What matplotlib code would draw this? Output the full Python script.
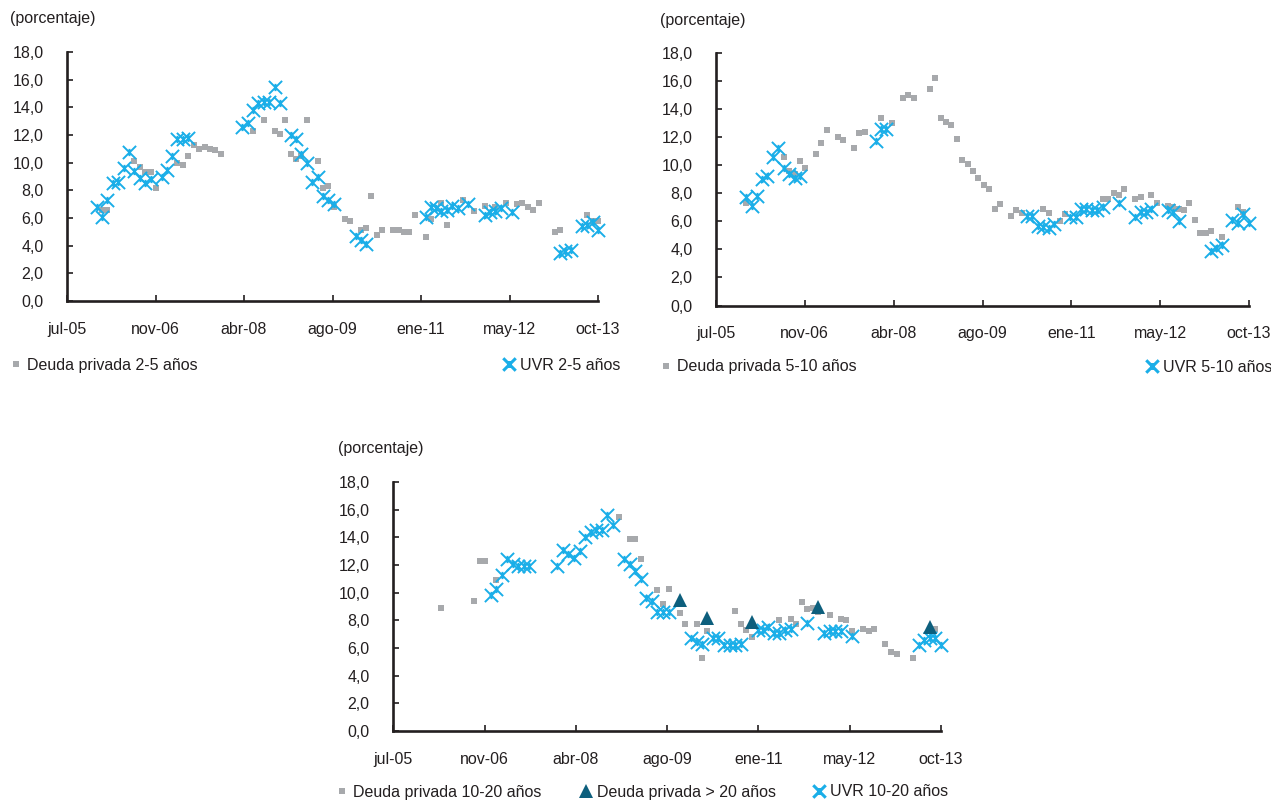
import matplotlib
matplotlib.use("Agg")
import matplotlib.pyplot as plt
from matplotlib.path import Path
from matplotlib.lines import Line2D
import pandas as pd

plt.rcParams['font.family'] = ['Liberation Sans', 'DejaVu Sans']
plt.rcParams['font.size'] = 11.5

# ---------------- datos ----------------
tick_labels = ["jul-05", "nov-06", "abr-08", "ago-09", "ene-11", "may-12", "oct-13"]
y_ticks = [0, 2, 4, 6, 8, 10, 12, 14, 16, 18]

# panel 1: 2-5 años
p1_priv_fechas = ["2006-01", "2006-02", "2006-07", "2006-08", "2006-09", "2006-10", "2006-11",
                  "2007-03", "2007-04", "2007-05", "2007-06", "2007-07", "2007-08", "2007-09", "2007-10", "2007-11",
                  "2008-05", "2008-07", "2008-09", "2008-10", "2008-11", "2008-12",
                  "2009-01", "2009-02", "2009-03", "2009-05", "2009-06", "2009-07", "2009-08", "2009-10", "2009-11",
                  "2010-01", "2010-02", "2010-03", "2010-04", "2010-05", "2010-07", "2010-08", "2010-09", "2010-10", "2010-11",
                  "2011-01", "2011-02", "2011-04", "2011-05", "2011-08", "2011-10", "2011-12",
                  "2012-02", "2012-04", "2012-06", "2012-07", "2012-08", "2012-09", "2012-10",
                  "2013-01", "2013-02", "2013-07", "2013-08", "2013-09"]
p1_priv = [6.6, 6.6, 10.1, 9.7, 9.3, 9.3, 8.2,
           10.0, 9.8, 10.5, 11.3, 11.0, 11.1, 11.0, 10.9, 10.6,
           12.3, 13.1, 12.3, 12.1, 13.1, 10.6,
           10.3, 10.5, 13.1, 10.1, 8.2, 8.3, 6.8, 5.9, 5.8,
           5.1, 5.3, 7.6, 4.8, 5.1, 5.1, 5.1, 5.0, 5.0, 6.2,
           4.6, 5.9, 7.1, 5.5, 7.3, 6.5, 6.9,
           6.8, 7.1, 7.0, 7.1, 6.8, 6.6, 7.1,
           5.0, 5.1, 6.2, 5.8, 5.8]
p1_uvr_fechas = ["2005-12", "2006-01", "2006-02", "2006-03", "2006-04", "2006-05", "2006-06", "2006-07",
                 "2006-08", "2006-09", "2006-10", "2006-12", "2007-01", "2007-02", "2007-03", "2007-04", "2007-05",
                 "2008-03", "2008-04", "2008-05", "2008-06", "2008-07", "2008-08", "2008-09", "2008-10", "2008-12",
                 "2009-01", "2009-02", "2009-03", "2009-04", "2009-05", "2009-06", "2009-07", "2009-08", "2009-12",
                 "2010-01", "2010-02", "2011-01", "2011-02", "2011-03", "2011-04", "2011-05", "2011-06", "2011-07",
                 "2011-09", "2011-12", "2012-01", "2012-02", "2012-03", "2012-05",
                 "2013-02", "2013-03", "2013-04", "2013-06", "2013-07", "2013-08", "2013-09"]
p1_uvr = [6.8, 6.1, 7.3, 8.5, 8.6, 9.6, 10.8, 9.4, 8.9, 8.5, 8.8, 9.0, 9.5, 10.5, 11.7, 11.7, 11.8,
          12.6, 12.9, 13.8, 14.3, 14.4, 14.4, 15.5, 14.3, 12.0, 11.7, 10.6, 10.0, 8.6, 9.0, 7.6, 7.3, 7.0, 4.7,
          4.4, 4.1, 6.1, 6.8, 6.7, 6.5, 6.6, 6.9, 6.7, 7.0, 6.2, 6.4, 6.5, 6.7, 6.4,
          3.5, 3.6, 3.7, 5.4, 5.5, 5.7, 5.1]

# panel 2: 5-10 años
p2_priv_fechas = ["2005-12", "2006-07", "2006-08", "2006-09", "2006-10", "2006-11",
                  "2007-01", "2007-02", "2007-03", "2007-05", "2007-06", "2007-08", "2007-09", "2007-10",
                  "2008-01", "2008-03", "2008-05", "2008-06", "2008-07", "2008-10", "2008-11", "2008-12",
                  "2009-01", "2009-02", "2009-03", "2009-04", "2009-05", "2009-06", "2009-07", "2009-08",
                  "2009-09", "2009-10", "2009-11",
                  "2010-01", "2010-02", "2010-03", "2010-07", "2010-08", "2010-10", "2010-11",
                  "2011-06", "2011-07", "2011-08", "2011-09", "2011-10", "2011-12",
                  "2012-01", "2012-03", "2012-04", "2012-06", "2012-07", "2012-08", "2012-09", "2012-10",
                  "2012-11", "2012-12", "2013-01", "2013-02", "2013-04", "2013-07", "2013-08"]
p2_priv = [7.3, 10.6, 9.6, 9.4, 10.3, 9.8,
           10.8, 11.6, 12.5, 12.0, 11.8, 11.2, 12.3, 12.4,
           13.4, 13.0, 14.8, 15.0, 14.8, 15.4, 16.2, 13.4,
           13.1, 12.9, 11.9, 10.4, 10.1, 9.6, 9.1, 8.6, 8.3, 6.9, 7.2,
           6.4, 6.8, 6.6, 6.9, 6.6, 6.0, 6.5,
           7.6, 7.6, 8.0, 7.9, 8.3, 7.6,
           7.7, 7.9, 7.3, 7.1, 7.0, 6.9, 6.8, 7.3, 6.1, 5.2,
           5.2, 5.3, 4.9, 7.0, 6.7]
p2_uvr_fechas = ["2005-12", "2006-01", "2006-02", "2006-03", "2006-04", "2006-05", "2006-06", "2006-07",
                 "2006-08", "2006-09", "2006-10", "2007-12", "2008-01", "2008-02",
                 "2010-04", "2010-05", "2010-06", "2010-07", "2010-08", "2010-09",
                 "2010-12", "2011-01", "2011-02", "2011-03", "2011-04", "2011-05", "2011-06", "2011-09",
                 "2011-12", "2012-01", "2012-02", "2012-03", "2012-06", "2012-07", "2012-08",
                 "2013-02", "2013-03", "2013-04", "2013-06", "2013-07", "2013-08", "2013-09"]
p2_uvr = [7.7, 7.1, 7.8, 9.0, 9.2, 10.6, 11.2, 9.8, 9.4, 9.1, 9.2, 11.7, 12.6, 12.6,
          6.4, 6.4, 5.7, 5.6, 5.5, 5.8,
          6.3, 6.3, 6.9, 6.9, 6.8, 6.8, 7.0, 7.3,
          6.3, 6.7, 6.7, 6.9, 6.8, 6.7, 6.0,
          3.9, 4.1, 4.3, 6.1, 5.9, 6.5, 5.9]

# panel 3: 10-20 años y > 20 años
p3_priv_fechas = ["2006-03", "2006-09", "2006-10", "2006-11", "2007-01", "2008-11",
                  "2009-01", "2009-02", "2009-03", "2009-06", "2009-07", "2009-08", "2009-10", "2009-11",
                  "2010-01", "2010-02", "2010-03", "2010-08", "2010-09", "2010-10", "2010-11",
                  "2011-04", "2011-06", "2011-07", "2011-08", "2011-09", "2011-10", "2011-11",
                  "2012-01", "2012-03", "2012-04", "2012-05", "2012-07", "2012-08", "2012-09", "2012-11", "2012-12",
                  "2013-01", "2013-04", "2013-08"]
p3_priv = [8.9, 9.4, 12.3, 12.3, 10.9, 15.5,
           13.9, 13.9, 12.4, 10.2, 9.2, 10.3, 8.5, 7.7,
           7.7, 5.3, 7.2, 8.7, 7.7, 7.3, 6.8,
           8.0, 8.1, 7.7, 9.3, 8.8, 8.9, 8.6,
           8.4, 8.1, 8.0, 7.2, 7.4, 7.2, 7.4, 6.3, 5.7,
           5.6, 5.3, 7.4]
p3_priv20_fechas = ["2009-10", "2010-03", "2010-11", "2011-11", "2013-07"]
p3_priv20 = [9.5, 8.2, 7.9, 9.0, 7.5]
p3_uvr_fechas = ["2006-12", "2007-01", "2007-02", "2007-03", "2007-04", "2007-05", "2007-06", "2007-07",
                 "2007-12", "2008-01", "2008-02", "2008-03", "2008-04", "2008-05", "2008-06", "2008-07",
                 "2008-08", "2008-09", "2008-10",
                 "2008-12", "2009-01", "2009-02", "2009-03", "2009-04", "2009-05", "2009-06", "2009-07", "2009-08",
                 "2009-12", "2010-01", "2010-02", "2010-04", "2010-05", "2010-06", "2010-07", "2010-08", "2010-09",
                 "2010-12", "2011-01", "2011-02", "2011-03", "2011-04", "2011-05", "2011-06", "2011-09",
                 "2011-12", "2012-01", "2012-02", "2012-03", "2012-05",
                 "2013-05", "2013-06", "2013-07", "2013-08", "2013-09"]
p3_uvr = [9.8, 10.3, 11.3, 12.4, 12.1, 11.9, 11.9, 11.9,
          11.9, 13.1, 12.8, 12.5, 13.0, 14.0, 14.4, 14.5, 14.5, 15.6, 14.9,
          12.4, 12.1, 11.6, 11.0, 9.6, 9.4, 8.6, 8.6, 8.6,
          6.7, 6.4, 6.3, 6.7, 6.7, 6.2, 6.2, 6.2, 6.3,
          7.3, 7.3, 7.5, 7.1, 7.1, 7.3, 7.4, 7.8,
          7.1, 7.2, 7.2, 7.2, 6.9,
          6.2, 6.6, 6.7, 6.7, 6.2]

# ---------------- estilo ----------------
GRIS = "#a7a9ac"
AZUL = "#1aaee8"
TEAL = "#0d5f7d"
NEGRO = "#231f20"
FS = 11.5

# marcador estrella de excel (X con barra vertical)
estrella = Path([(-1, -1), (1, 1), (-1, 1), (1, -1), (0, -0.55), (0, 0.55)],
                [Path.MOVETO, Path.LINETO, Path.MOVETO, Path.LINETO, Path.MOVETO, Path.LINETO])

inicio = pd.Timestamp("2005-07-15")
ticks_x = [inicio + pd.Timedelta(days=500 * i) for i in range(len(tick_labels))]


def fechas(lista):
    return pd.to_datetime(lista) + pd.offsets.MonthEnd(0)


def formato(ax):
    ax.set_xlim(ticks_x[0], ticks_x[-1])
    ax.set_ylim(0, 18)
    ax.set_xticks(ticks_x)
    ax.set_xticklabels(tick_labels)
    ax.set_yticks(y_ticks)
    ax.set_yticklabels([f"{v:.1f}".replace(".", ",") for v in y_ticks])
    for s in ["top", "right"]:
        ax.spines[s].set_visible(False)
    for s in ["left", "bottom"]:
        ax.spines[s].set_color(NEGRO)
        ax.spines[s].set_linewidth(1.9)
    ax.tick_params(axis="both", direction="in", length=4, width=1.2, color=NEGRO,
                   labelcolor=NEGRO, labelsize=FS)
    ax.tick_params(axis="y", pad=17)
    ax.tick_params(axis="x", pad=15)


def priv(ax, f, v):
    ax.plot(fechas(f), v, ls="none", marker="s", ms=4.6, mew=0, color=GRIS, zorder=2, clip_on=False)


def uvr(ax, f, v):
    ax.plot(fechas(f), v, ls="none", marker=estrella, ms=9.5, mew=1.4, color=AZUL, zorder=3, clip_on=False)


fig = plt.figure(figsize=(12.71, 8), dpi=100)
W, H = 1271, 800


def ejes(x0, x1, y0, y1):
    return fig.add_axes([x0 / W, 1 - y1 / H, (x1 - x0) / W, (y1 - y0) / H])


ax1 = ejes(67, 598, 52, 301)
ax2 = ejes(716, 1249, 53, 305.5)
ax3 = ejes(393.3, 941, 482, 731)

priv(ax1, p1_priv_fechas, p1_priv)
uvr(ax1, p1_uvr_fechas, p1_uvr)
priv(ax2, p2_priv_fechas, p2_priv)
uvr(ax2, p2_uvr_fechas, p2_uvr)
priv(ax3, p3_priv_fechas, p3_priv)
uvr(ax3, p3_uvr_fechas, p3_uvr)
ax3.plot(fechas(p3_priv20_fechas), p3_priv20, ls="none", marker="^", ms=9.5, mew=0, color=TEAL, zorder=4)

for ax in (ax1, ax2, ax3):
    formato(ax)

fig.text(10 / W, 1 - 18 / H, "(porcentaje)", va="center", ha="left", color=NEGRO, fontsize=FS)
fig.text(660 / W, 1 - 20 / H, "(porcentaje)", va="center", ha="left", color=NEGRO, fontsize=FS)
fig.text(338 / W, 1 - 449 / H, "(porcentaje)", va="center", ha="left", color=NEGRO, fontsize=FS)

h_priv = Line2D([], [], ls="none", marker="s", ms=4.6, mew=0, color=GRIS)
h_uvr = Line2D([], [], ls="none", marker=estrella, ms=9, mew=2.2, color=AZUL)
h_20 = Line2D([], [], ls="none", marker="^", ms=10, mew=0, color=TEAL)


def leyenda(h, texto, x, y):
    fig.legend(handles=[h], labels=[texto], loc="center left", bbox_to_anchor=(x / W, 1 - y / H),
               frameon=False, borderpad=0, borderaxespad=0, handlelength=0.75, handletextpad=0.3,
               fontsize=FS, labelcolor=NEGRO)


leyenda(h_priv, "Deuda privada 2-5 años", 10, 365)
leyenda(h_uvr, "UVR 2-5 años", 503, 365)
leyenda(h_priv, "Deuda privada 5-10 años", 660, 367)
leyenda(h_uvr, "UVR 5-10 años", 1146, 367)
leyenda(h_priv, "Deuda privada 10-20 años", 336, 792)
leyenda(h_20, "Deuda privada > 20 años", 580, 792)
leyenda(h_uvr, "UVR 10-20 años", 813, 792)

fig.savefig("out.png", dpi=100)
